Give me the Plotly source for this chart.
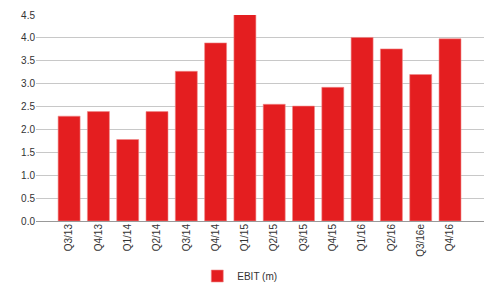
import plotly.graph_objects as go

categories = ["Q3/13", "Q4/13", "Q1/14", "Q2/14", "Q3/14", "Q4/14", "Q1/15",
              "Q2/15", "Q3/15", "Q4/15", "Q1/16", "Q2/16", "Q3/16e", "Q4/16"]
ebit = [2.29, 2.39, 1.78, 2.39, 3.27, 3.89, 4.53, 2.55, 2.51, 2.92, 4.01, 3.76, 3.20, 3.98]
y_ticks = [0.0, 0.5, 1.0, 1.5, 2.0, 2.5, 3.0, 3.5, 4.0, 4.5]

fig = go.Figure()
fig.add_trace(go.Bar(
    x=categories, y=ebit, name="EBIT (m)", cliponaxis=False,
    marker=dict(color="#e41e20", line=dict(color="#f08a8a", width=0.6)),
))

# page body has an 8px default margin, so the figure is sized to compensate
fig.update_layout(
    width=484, height=279,
    margin=dict(l=28, r=8, t=7, b=66, autoexpand=False),
    paper_bgcolor="white", plot_bgcolor="white",
    font=dict(family="Liberation Sans, Arial, sans-serif", size=10, color="#333333"),
    bargap=0.25,
    showlegend=True,
    legend=dict(orientation="h", x=0.36, xanchor="left",
                y=-0.267, yanchor="middle",
                itemwidth=30,
                font=dict(size=10, color="#333333")),
    xaxis=dict(
        range=[-1.13, 14.16], tickangle=-90, showgrid=False, automargin=False,
        showline=False, ticks="", tickfont=dict(size=10),
    ),
    yaxis=dict(
        range=[0, 4.5], tickvals=y_ticks, ticktext=[f"{v:.1f}" for v in y_ticks],
        showgrid=True, gridcolor="#c8c8c8", gridwidth=1, automargin=False,
        zeroline=True, zerolinecolor="#999999", zerolinewidth=1,
        showline=False, ticks="", tickfont=dict(size=10),
    ),
)

fig.write_html("out.html")
